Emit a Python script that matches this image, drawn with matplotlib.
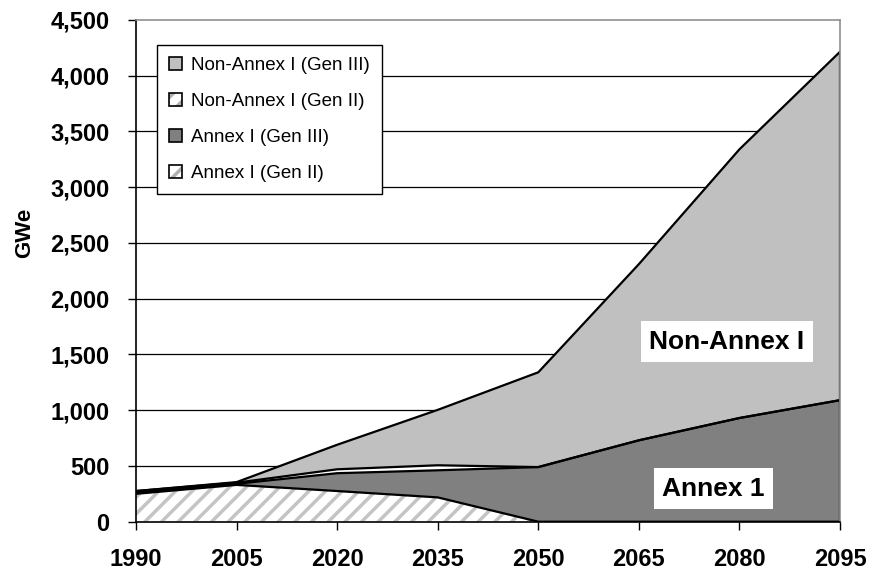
import matplotlib.pyplot as plt
import numpy as np
from matplotlib.patches import Patch
from matplotlib.ticker import StrMethodFormatter

plt.rcParams['font.family'] = ['Liberation Sans', 'DejaVu Sans']
plt.rcParams['hatch.linewidth'] = 2.5

# data (GWe)
years = [1990, 2005, 2020, 2035, 2050, 2065, 2080, 2095]
annex_gen2 = [250, 330, 275, 218, 0, 0, 0, 0]
annex_gen3 = [10, 10, 160, 243, 490, 730, 930, 1090]
nonannex_gen2 = [15, 10, 35, 45, 0, 0, 0, 0]
nonannex_gen3 = [0, 5, 220, 497, 850, 1580, 2410, 3125]

labels = ['Annex I (Gen II)', 'Annex I (Gen III)',
          'Non-Annex I (Gen II)', 'Non-Annex I (Gen III)']

x = np.array(years)
layers = [np.array(v, dtype=float) for v in (annex_gen2, annex_gen3, nonannex_gen2, nonannex_gen3)]
tops = np.cumsum(layers, axis=0)

fig = plt.figure(figsize=(8.7, 5.73), dpi=100)
ax = fig.add_axes([136 / 870, 1 - 521.7 / 573, 704 / 870, 501.7 / 573])

# gridlines
for yv in range(500, 4500, 500):
    ax.axhline(yv, color='black', lw=0.9, zorder=1)

# stacked areas
bottom = np.zeros(len(x))
ax.fill_between(x, bottom, tops[0], facecolor='white', edgecolor='#c4c4c4',
                hatch='//', lw=0, zorder=2)
ax.fill_between(x, tops[0], tops[1], facecolor='#808080', lw=0, zorder=2)
ax.fill_between(x, tops[1], tops[2], facecolor='white', lw=0, zorder=2)
ax.fill_between(x, tops[2], tops[3], facecolor='#c0c0c0', lw=0, zorder=2)

# outlines
for t in tops:
    ax.plot(x, t, color='black', lw=1.6, zorder=3, solid_joinstyle='miter')
ax.vlines(x[-1], 0, tops[-1][-1], color='black', lw=1.6, zorder=3)

ax.set_xlim(years[0], years[-1])
ax.set_ylim(0, 4500)
ax.set_xticks(years)
ax.set_yticks(range(0, 4501, 500))
ax.yaxis.set_major_formatter(StrMethodFormatter('{x:,.0f}'))
ax.tick_params(axis='both', direction='out', length=6, width=1, color='black')
ax.tick_params(axis='y', pad=13)
ax.tick_params(axis='x', pad=13)
for lab in ax.get_xticklabels() + ax.get_yticklabels():
    lab.set_fontweight('bold')
    lab.set_fontsize(17)

ax.set_ylabel('GWe', fontsize=16, fontweight='bold')
ax.yaxis.set_label_coords(-0.143, 0.575)

for s in ['left', 'bottom']:
    ax.spines[s].set_color('black')
    ax.spines[s].set_linewidth(1.2)
for s in ['top', 'right']:
    ax.spines[s].set_color('#909090')
    ax.spines[s].set_linewidth(1.2)
for s in ax.spines.values():
    s.set_zorder(4)

# legend
def hatched():
    return (Patch(facecolor='white', edgecolor='#b0b0b0', hatch='//', lw=0),
            Patch(facecolor='none', edgecolor='black', lw=1.2))

handles = [
    Patch(facecolor='#c0c0c0', edgecolor='black', lw=1.2),
    hatched(),
    Patch(facecolor='#808080', edgecolor='black', lw=1.2),
    hatched(),
]
leg_labels = labels[::-1]
leg = ax.legend(handles, leg_labels, loc='upper left',
                bbox_to_anchor=((157 - 136) / 704, (521.7 - 45) / 501.7),
                borderaxespad=0, fancybox=False, framealpha=1, edgecolor='black',
                fontsize=13.5, handlelength=0.7, handleheight=0.7,
                handletextpad=0.45, labelspacing=1.0, borderpad=0.65)
leg.get_frame().set_linewidth(1.0)
leg.set_zorder(5)

# region labels
box = dict(facecolor='white', edgecolor='none', pad=6)
ax.text(2078.1, 1613, 'Non-Annex I', fontsize=19, fontweight='bold',
        ha='center', va='center', bbox=box, zorder=6)
ax.text(2076.1, 294, 'Annex 1', fontsize=19, fontweight='bold',
        ha='center', va='center', bbox=box, zorder=6)

fig.savefig('out.png', dpi=100)
